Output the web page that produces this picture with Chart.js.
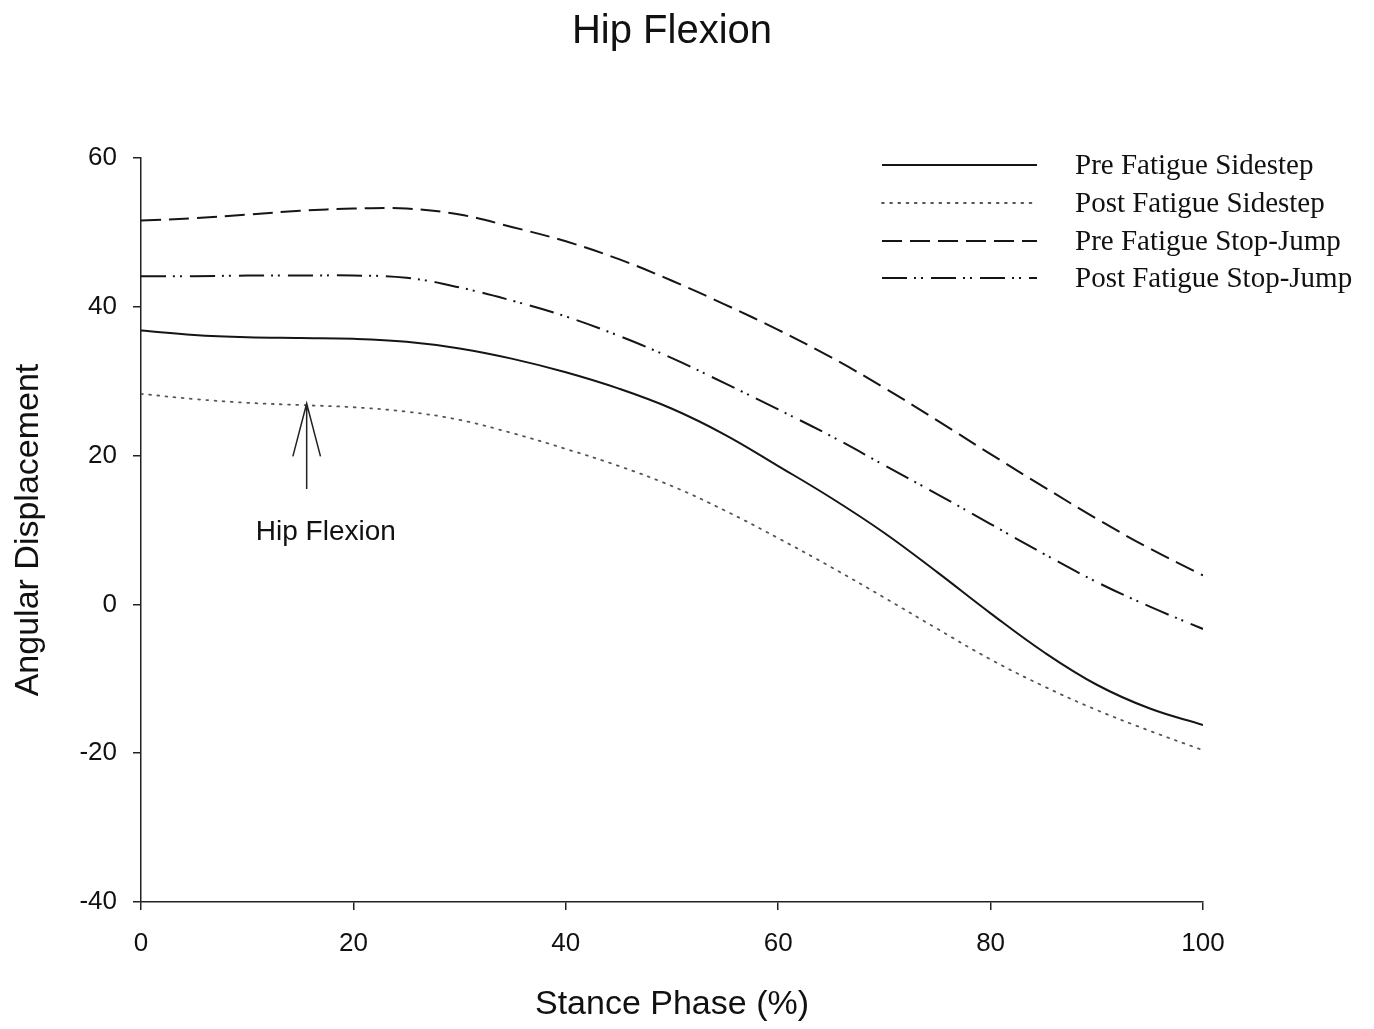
<!DOCTYPE html>
<html>
<head>
<meta charset="utf-8">
<script src="https://cdn.jsdelivr.net/npm/chart.js@4.4.1/dist/chart.umd.min.js"></script>
<style>
  html, body { margin: 0; padding: 0; background: #fff; }
  #wrap { width: 1374px; height: 1029px; }
</style>
</head>
<body>
<div id="wrap"><canvas id="c" width="1374" height="1029"></canvas></div>
<script>
// ---- Data ----
const stance = [0,5,10,15,20,25,30,35,40,45,50,55,60,65,70,75,80,85,90,95,100];
const preSidestep   = [36.8,36.2,35.9,35.8,35.7,35.3,34.4,33.0,31.2,29.0,26.3,22.8,18.6,14.3,9.6,4.3,-1.2,-6.4,-10.8,-14.0,-16.2];
const postSidestep  = [28.3,27.6,27.1,26.8,26.5,25.9,24.8,23.0,20.9,18.6,15.9,12.6,8.9,5.0,0.9,-3.3,-7.4,-11.0,-14.2,-17.0,-19.6];
const preStopJump   = [51.6,51.9,52.4,52.9,53.2,53.2,52.4,50.7,48.8,46.4,43.5,40.3,36.9,33.2,29.1,24.7,20.2,15.8,11.5,7.5,3.9];
const postStopJump  = [44.1,44.1,44.2,44.2,44.2,43.9,42.6,40.8,38.7,36.1,33.1,29.7,26.2,22.6,18.7,14.8,10.8,6.8,3.0,-0.3,-3.3];
const seriesNames = ["Pre Fatigue Sidestep","Post Fatigue Sidestep","Pre Fatigue Stop-Jump","Post Fatigue Stop-Jump"];
const xTicks = [0,20,40,60,80,100];
const yTicks = [-40,-20,0,20,40,60];
const chartTitle = "Hip Flexion";
const xTitle = "Stance Phase (%)";
const yTitle = "Angular Displacement";
const annotationText = "Hip Flexion";
const arrowTip = {x: 15.6, y: 27.0};
const arrowBase = {x: 15.6, y: 15.5};
const arrowWingY = 19.9, arrowWingDx = 1.3;
const annotationLabelPos = {x: 17.4, y: 9.7};

const styles = [
  {color:'#151515', width:2.0, dash:[]},
  {color:'#555555', width:1.8, dash:[1.8,6.4]},
  {color:'#151515', width:2.0, dash:[20,8]},
  {color:'#151515', width:2.0, dash:[25,7,2,5,2,8]}
];
const seriesData = [preSidestep, postSidestep, preStopJump, postStopJump];

const datasets = seriesData.map((vals, i) => ({
  label: seriesNames[i],
  data: stance.map((s, k) => ({x: s, y: vals[k]})),
  borderColor: styles[i].color,
  borderWidth: styles[i].width,
  borderDash: styles[i].dash,
  borderCapStyle: i === 1 ? 'round' : 'butt',
  pointRadius: 0,
  fill: false,
  tension: 0.4
}));

const extras = {
  id: 'extras',
  afterDraw(chart) {
    const ctx = chart.ctx;
    const xs = chart.scales.x, ys = chart.scales.y;
    ctx.save();
    // Title
    ctx.fillStyle = '#111';
    ctx.font = '40px "Liberation Sans", Arial, sans-serif';
    ctx.textAlign = 'center';
    ctx.textBaseline = 'alphabetic';
    ctx.fillText(chartTitle, 672, 43);

    // Legend
    const lx0 = 882, lx1 = 1037, tx = 1075;
    const rowY = [165, 203, 241, 278];
    ctx.font = '29px "Liberation Serif", "Times New Roman", serif';
    ctx.textAlign = 'left';
    ctx.textBaseline = 'middle';
    for (let i = 0; i < 4; i++) {
      ctx.beginPath();
      ctx.strokeStyle = styles[i].color;
      ctx.lineWidth = styles[i].width;
      ctx.setLineDash(styles[i].dash);
      ctx.lineCap = i === 1 ? 'round' : 'butt';
      ctx.moveTo(lx0, rowY[i]);
      ctx.lineTo(lx1, rowY[i]);
      ctx.stroke();
      ctx.setLineDash([]);
      ctx.fillStyle = '#111';
      ctx.fillText(seriesNames[i], tx, rowY[i] + 1);
    }

    // Annotation arrow
    const tipX = xs.getPixelForValue(arrowTip.x), tipY = ys.getPixelForValue(arrowTip.y);
    const baseY = ys.getPixelForValue(arrowBase.y);
    const wingY = ys.getPixelForValue(arrowWingY);
    const wl = xs.getPixelForValue(arrowTip.x - arrowWingDx), wr = xs.getPixelForValue(arrowTip.x + arrowWingDx);
    ctx.strokeStyle = '#222';
    ctx.lineWidth = 1.5;
    ctx.lineCap = 'butt';
    ctx.beginPath();
    ctx.moveTo(tipX, baseY); ctx.lineTo(tipX, tipY);
    ctx.moveTo(wl, wingY); ctx.lineTo(tipX, tipY); ctx.lineTo(wr, wingY);
    ctx.stroke();
    ctx.fillStyle = '#111';
    ctx.font = '28px "Liberation Sans", Arial, sans-serif';
    ctx.textAlign = 'center';
    ctx.textBaseline = 'middle';
    ctx.fillText(annotationText, xs.getPixelForValue(annotationLabelPos.x), ys.getPixelForValue(annotationLabelPos.y));
    ctx.restore();
  }
};

new Chart(document.getElementById('c'), {
  type: 'line',
  data: { datasets },
  options: {
    responsive: false,
    animation: false,
    layout: { padding: { top: 158, right: 171, left: 0, bottom: 0 } },
    plugins: { legend: { display: false }, title: { display: false }, tooltip: { enabled: false } },
    scales: {
      x: {
        type: 'linear', min: 0, max: 100,
        afterBuildTicks(scale) { scale.ticks = xTicks.map(v => ({value: v})); },
        afterFit(scale) { scale.height = 127; },
        grid: { drawOnChartArea: false, drawTicks: true, tickLength: 8, color: '#222', lineWidth: 1.5 },
        border: { display: true, color: '#222', width: 1.5 },
        ticks: { color: '#111', padding: 18, maxRotation: 0, font: { family: '"Liberation Sans", Arial, sans-serif', size: 26 } },
        title: { display: true, text: xTitle, color: '#111', padding: { top: 0, bottom: 4 }, font: { family: '"Liberation Sans", Arial, sans-serif', size: 34 } }
      },
      y: {
        type: 'linear', min: -40, max: 60,
        afterBuildTicks(scale) { scale.ticks = yTicks.map(v => ({value: v})); },
        afterFit(scale) { scale.width = 141; },
        grid: { drawOnChartArea: false, drawTicks: true, tickLength: 8, color: '#222', lineWidth: 1.5 },
        border: { display: true, color: '#222', width: 1.5 },
        ticks: { color: '#111', padding: 16, font: { family: '"Liberation Sans", Arial, sans-serif', size: 26 } },
        title: { display: true, text: yTitle, color: '#111', padding: { top: 8, bottom: 0 }, font: { family: '"Liberation Sans", Arial, sans-serif', size: 34 } }
      }
    }
  },
  plugins: [extras]
});
</script>
</body>
</html>
